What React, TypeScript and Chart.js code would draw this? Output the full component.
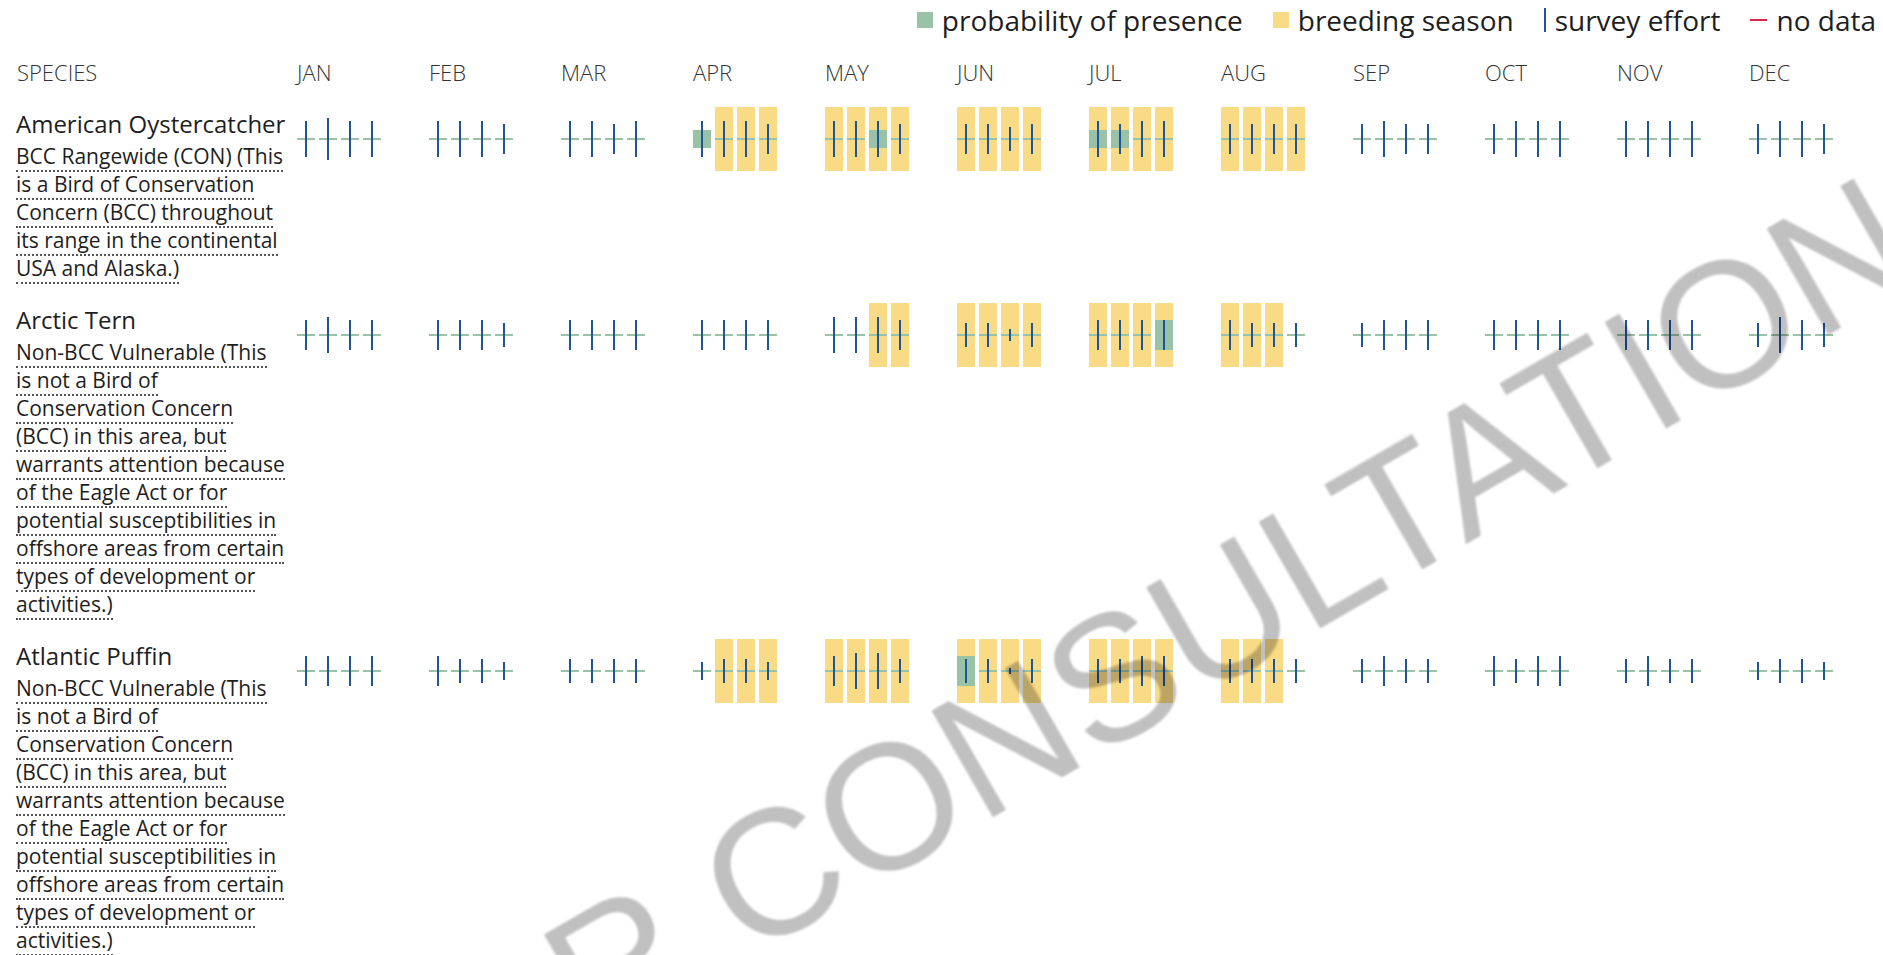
import React, { useEffect, useRef } from "react";
import { Chart, registerables } from "chart.js";

Chart.register(...registerables);

// ---------- data ----------
const MONTHS = ["JAN", "FEB", "MAR", "APR", "MAY", "JUN", "JUL", "AUG", "SEP", "OCT", "NOV", "DEC"];

const SPECIES_NAMES = ["American Oystercatcher", "Arctic Tern", "Atlantic Puffin"];

const DESC_OYSTERCATCHER = [
  "BCC Rangewide (CON) (This",
  "is a Bird of Conservation",
  "Concern (BCC) throughout",
  "its range in the continental",
  "USA and Alaska.)",
];
const DESC_NON_BCC = [
  "Non-BCC Vulnerable (This",
  "is not a Bird of",
  "Conservation Concern",
  "(BCC) in this area, but",
  "warrants attention because",
  "of the Eagle Act or for",
  "potential susceptibilities in",
  "offshore areas from certain",
  "types of development or",
  "activities.)",
];

// survey effort per week (4 weeks x 12 months)
const EFFORT_OYSTERCATCHER = [
  6, 7, 6, 6,  6, 6, 6, 5,  6, 6, 5, 6,  6, 6, 6, 5,
  6, 6, 6, 5,  5, 5, 4, 5,  6, 5, 6, 6,  5, 5, 5, 5,
  5, 6, 5, 5,  5, 6, 6, 6,  6, 6, 6, 6,  5, 6, 6, 5,
];
const EFFORT_TERN = [
  5, 6, 5, 5,  5, 5, 5, 4,  5, 5, 5, 5,  5, 5, 5, 5,
  6, 6, 6, 5,  4, 4, 2, 4,  5, 5, 5, 5,  5, 4, 4, 4,
  4, 5, 5, 5,  5, 5, 5, 5,  5, 5, 5, 5,  4, 6, 5, 4,
];
const EFFORT_PUFFIN = [
  5, 5, 5, 5,  5, 4, 4, 3,  4, 4, 4, 4,  3, 4, 4, 3,
  5, 6, 6, 4,  4, 4, 1, 4,  4, 4, 5, 5,  4, 4, 4, 4,
  4, 5, 4, 4,  5, 4, 5, 5,  4, 5, 4, 4,  3, 4, 4, 3,
];

// probability of presence per week
const PRESENCE_OYSTERCATCHER = [
  0, 0, 0, 0,  0, 0, 0, 0,  0, 0, 0, 0,  3, 0, 0, 0,
  0, 0, 3, 0,  0, 0, 0, 0,  3, 3, 0, 0,  0, 0, 0, 0,
  0, 0, 0, 0,  0, 0, 0, 0,  0, 0, 0, 0,  0, 0, 0, 0,
];
const PRESENCE_TERN = [
  0, 0, 0, 0,  0, 0, 0, 0,  0, 0, 0, 0,  0, 0, 0, 0,
  0, 0, 0, 0,  0, 0, 0, 0,  0, 0, 0, 5,  0, 0, 0, 0,
  0, 0, 0, 0,  0, 0, 0, 0,  0, 0, 0, 0,  0, 0, 0, 0,
];
const PRESENCE_PUFFIN = [
  0, 0, 0, 0,  0, 0, 0, 0,  0, 0, 0, 0,  0, 0, 0, 0,
  0, 0, 0, 0,  5, 0, 0, 0,  0, 0, 0, 0,  0, 0, 0, 0,
  0, 0, 0, 0,  0, 0, 0, 0,  0, 0, 0, 0,  0, 0, 0, 0,
];

// breeding season per week (1 = breeding)
const BREEDING_OYSTERCATCHER = [
  0, 0, 0, 0,  0, 0, 0, 0,  0, 0, 0, 0,  0, 1, 1, 1,
  1, 1, 1, 1,  1, 1, 1, 1,  1, 1, 1, 1,  1, 1, 1, 1,
  0, 0, 0, 0,  0, 0, 0, 0,  0, 0, 0, 0,  0, 0, 0, 0,
];
const BREEDING_TERN = [
  0, 0, 0, 0,  0, 0, 0, 0,  0, 0, 0, 0,  0, 0, 0, 0,
  0, 0, 1, 1,  1, 1, 1, 1,  1, 1, 1, 1,  1, 1, 1, 0,
  0, 0, 0, 0,  0, 0, 0, 0,  0, 0, 0, 0,  0, 0, 0, 0,
];
const BREEDING_PUFFIN = [
  0, 0, 0, 0,  0, 0, 0, 0,  0, 0, 0, 0,  0, 1, 1, 1,
  1, 1, 1, 1,  1, 1, 1, 1,  1, 1, 1, 1,  1, 1, 1, 0,
  0, 0, 0, 0,  0, 0, 0, 0,  0, 0, 0, 0,  0, 0, 0, 0,
];

// ---------- style ----------
const GREEN = "#9ac2a7";
const YELLOW = "#fadb85";
const BLUE = "#1f5496";
const RED = "#d42a45";
const TEXT = "#1e1e1e";

const WEEKS_PER_MONTH = 4;
const SLOTS_PER_MONTH = 6;
const SLOT_PX = 22;
const CHART_LEFT = 295;
const CHART_W = 12 * SLOTS_PER_MONTH * SLOT_PX;
const CHART_H = 66;
const Y_HALF = 5.5;
const BAND_HALF = 32 / 6;

const slotOf = (i: number) =>
  Math.floor(i / WEEKS_PER_MONTH) * SLOTS_PER_MONTH + (i % WEEKS_PER_MONTH);

function RowChart({ effort, presence, breeding }: { effort: number[]; presence: number[]; breeding: number[] }) {
  const ref = useRef<HTMLCanvasElement | null>(null);
  useEffect(() => {
    if (!ref.current) return;
    const chart = new Chart(ref.current, {
      type: "bar",
      data: {
        datasets: [
          {
            label: "survey effort",
            data: effort.map((v, i) => ({ x: slotOf(i), y: [-v / 2, v / 2] })) as any,
            backgroundColor: BLUE,
            barThickness: 2,
            order: 0,
          },
          {
            label: "probability of presence",
            data: presence.map((p, i) => {
              const h = Math.max(p, 1 / 3) / 2;
              return { x: slotOf(i), y: [-h, h] };
            }) as any,
            backgroundColor: GREEN,
            barThickness: 18,
            order: 1,
          },
          {
            label: "breeding season",
            data: breeding
              .map((b, i) => (b ? { x: slotOf(i), y: [-BAND_HALF, BAND_HALF] } : null))
              .filter(Boolean) as any,
            backgroundColor: YELLOW,
            barThickness: 18,
            order: 2,
          },
        ],
      },
      options: {
        animation: false,
        responsive: false,
        maintainAspectRatio: false,
        devicePixelRatio: 1,
        layout: { padding: 0 },
        events: [],
        plugins: { legend: { display: false }, tooltip: { enabled: false } },
        datasets: { bar: { grouped: false, inflateAmount: 0, borderWidth: 0 } as any },
        scales: {
          x: { type: "linear", min: -0.5, max: 12 * SLOTS_PER_MONTH - 0.5, display: false, offset: false },
          y: { type: "linear", min: -Y_HALF, max: Y_HALF, display: false },
        },
      },
    });
    return () => chart.destroy();
  }, []);
  return (
    <canvas
      ref={ref}
      width={CHART_W}
      height={CHART_H}
      style={{ display: "block", width: CHART_W, height: CHART_H }}
    />
  );
}

const ROWS = [
  { name: SPECIES_NAMES[0], desc: DESC_OYSTERCATCHER, effort: EFFORT_OYSTERCATCHER, presence: PRESENCE_OYSTERCATCHER, breeding: BREEDING_OYSTERCATCHER },
  { name: SPECIES_NAMES[1], desc: DESC_NON_BCC, effort: EFFORT_TERN, presence: PRESENCE_TERN, breeding: BREEDING_TERN },
  { name: SPECIES_NAMES[2], desc: DESC_NON_BCC, effort: EFFORT_PUFFIN, presence: PRESENCE_PUFFIN, breeding: BREEDING_PUFFIN },
];

function LegendItem({ marker, label }: { marker: React.ReactNode; label: string }) {
  return (
    <div style={{ display: "flex", alignItems: "center", marginLeft: 30 }}>
      {marker}
      <span style={{ marginLeft: 9 }}>{label}</span>
    </div>
  );
}

export default function App() {
  useEffect(() => {
    document.body.style.margin = "0";
    document.body.style.overflow = "hidden";
  }, []);
  return (
    <div
      style={{
        position: "fixed",
        left: 0,
        top: 0,
        width: 1883,
        height: 955,
        overflow: "hidden",
        background: "#fff",
        fontFamily: '"Open Sans", "Noto Sans", sans-serif',
        color: TEXT,
      }}
    >
      {/* legend */}
      <div
        style={{
          position: "absolute",
          top: 1,
          right: 7,
          display: "flex",
          alignItems: "center",
          fontSize: 28,
          lineHeight: "38px",
          whiteSpace: "nowrap",
        }}
      >
        <LegendItem marker={<span style={{ width: 16, height: 16, background: GREEN, display: "block" }} />} label="probability of presence" />
        <LegendItem marker={<span style={{ width: 16, height: 16, background: YELLOW, display: "block" }} />} label="breeding season" />
        <LegendItem marker={<span style={{ width: 2, height: 24, background: BLUE, display: "block" }} />} label="survey effort" />
        <LegendItem marker={<span style={{ width: 17, height: 2, background: RED, display: "block" }} />} label="no data" />
      </div>

      {/* header */}
      <div style={{ position: "absolute", top: 57, left: 17, fontSize: 22, lineHeight: "30px", fontWeight: 300, color: "#333" }}>
        SPECIES
      </div>
      {MONTHS.map((m, i) => (
        <div
          key={m}
          style={{
            position: "absolute",
            top: 57,
            left: CHART_LEFT + 2 + i * SLOTS_PER_MONTH * SLOT_PX,
            fontSize: 22,
            lineHeight: "30px",
            fontWeight: 300,
            color: "#333",
          }}
        >
          {m}
        </div>
      ))}

      {/* rows */}
      <div style={{ position: "absolute", top: 106, left: 0, right: 0 }}>
        {ROWS.map((r) => (
          <div key={r.name} style={{ position: "relative", marginBottom: 20, paddingLeft: 16 }}>
            <div style={{ fontSize: 24, lineHeight: "36px", whiteSpace: "nowrap" }}>{r.name}</div>
            <div style={{ fontSize: 21, lineHeight: "28px", whiteSpace: "nowrap" }}>
              {r.desc.map((line, k) => (
                <React.Fragment key={k}>
                  <span style={{ borderBottom: "2px dotted #555" }}>{line}</span>
                  <br />
                </React.Fragment>
              ))}
            </div>
            <div style={{ position: "absolute", left: CHART_LEFT, top: 0 }}>
              <RowChart effort={r.effort} presence={r.presence} breeding={r.breeding} />
            </div>
          </div>
        ))}
      </div>

      {/* watermark */}
      <div
        style={{
          position: "absolute",
          left: 938,
          top: 778,
          transform: "translate(-50%, -50%) rotate(-30deg)",
          fontFamily: '"Liberation Sans", Arial, sans-serif',
          fontSize: 179,
          lineHeight: 1,
          whiteSpace: "nowrap",
          color: "rgb(192,192,192)",
          mixBlendMode: "multiply",
          filter: "blur(1px)",
          pointerEvents: "none",
        }}
      >
        NOT FOR CONSULTATION
      </div>
    </div>
  );
}
